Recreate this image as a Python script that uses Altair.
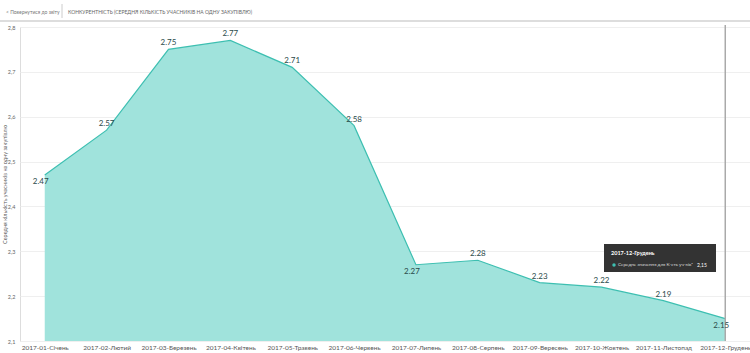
import altair as alt
import pandas as pd

months = ["2017-01-Січень", "2017-02-Лютий", "2017-03-Березень", "2017-04-Квітень",
          "2017-05-Травень", "2017-06-Червень", "2017-07-Липень", "2017-08-Серпень",
          "2017-09-Вересень", "2017-10-Жовтень", "2017-11-Листопад", "2017-12-Грудень"]
values = [2.47, 2.57, 2.75, 2.77, 2.71, 2.58, 2.27, 2.28, 2.23, 2.22, 2.19, 2.15]
below_labels = ["2017-01-Січень", "2017-07-Липень", "2017-12-Грудень"]
y_ticks = [2.1, 2.2, 2.3, 2.4, 2.5, 2.6, 2.7, 2.8]
header_back = "Повернутися до звіту"
header_title = "КОНКУРЕНТНІСТЬ (СЕРЕДНЯ КІЛЬКІСТЬ УЧАСНИКІВ НА ОДНУ ЗАКУПІВЛЮ)"
y_title = "Середня кількість учасників на одну закупівлю"
tip_title = "2017-12-Грудень"
tip_series = "Середнє значення для К-сть уч-ків²"
tip_value = "2,15"

df = pd.DataFrame({"month": months, "value": values})
df["below"] = df["month"].isin(below_labels)

FONT = "Lato"
x_enc = alt.X("month:N", sort=months, scale=alt.Scale(type="point", padding=0.4),
              axis=alt.Axis(title=None, labelAngle=0, labelFontSize=6.5, labelColor="#555",
                            domain=False, ticks=False, labelPadding=3, grid=False,
                            labelFont=FONT, labelOverlap=False))
y_scale = alt.Scale(domain=[2.1, 2.8], zero=False, nice=False)

base = alt.Chart(df)

area = base.mark_area(color="#a0e3dc", opacity=1, line={"color": "#3dbfb1", "strokeWidth": 1.2}).encode(
    x=x_enc,
    y=alt.Y("value:Q", scale=y_scale,
            axis=alt.Axis(values=y_ticks, labelExpr="replace(format(datum.value, '.1f'), '.', ',')",
                          title=y_title, titleFontSize=5.5, titleFontWeight="normal", titleColor="#555",
                          titlePadding=0, labelFontSize=5.5, labelColor="#666", labelPadding=5,
                          domain=False, ticks=False, gridColor="#efefef", labelFont=FONT,
                          titleFont=FONT)),
    y2=alt.datum(2.1),
)

labels_above = base.transform_filter("!datum.below").mark_text(
    dy=-6, fontSize=8, color="#2b4a4a", font=FONT).encode(
    x=alt.X("month:N", sort=months), y="value:Q", text=alt.Text("value:Q", format=".2f"))

labels_below = base.transform_filter("datum.below").mark_text(
    dy=7, dx=-4, fontSize=8, color="#2b4a4a", font=FONT).encode(
    x=alt.X("month:N", sort=months), y="value:Q", text=alt.Text("value:Q", format=".2f"))

vline = base.transform_filter(alt.datum.month == months[-1]).mark_rule(
    color="#aaaaaa", strokeWidth=1.5).encode(
    x=alt.X("month:N", sort=months), y=alt.value(-2), y2=alt.value(314))

# header
one = base.transform_filter(alt.datum.month == months[0])
hdr_line = one.mark_rule(color="#bbbbbb", strokeWidth=1).encode(
    x=alt.value(-20), x2=alt.value(730), y=alt.value(-6))
hdr_sep = one.mark_rule(color="#cccccc", strokeWidth=1).encode(
    x=alt.value(42), y=alt.value(-23), y2=alt.value(-9))
hdr_back = one.mark_text(
    align="left", baseline="middle", fontSize=5, color="#777", font=FONT, text="<   " + header_back).encode(
    x=alt.value(-14), y=alt.value(-15))
hdr_title = one.mark_text(
    align="left", baseline="middle", fontSize=5, color="#666", font=FONT, text=header_title).encode(
    x=alt.value(48), y=alt.value(-15))

# tooltip box
tip_box = one.mark_rect(color="#333333").encode(
    x=alt.value(584), x2=alt.value(696), y=alt.value(217), y2=alt.value(245))
tip_t1 = one.mark_text(align="left", baseline="middle", fontSize=5.5, fontWeight="bold",
                       color="white", font=FONT, text=tip_title).encode(
    x=alt.value(591), y=alt.value(226))
tip_dot = one.mark_point(filled=True, color="#3dbfb1", size=12, opacity=1).encode(
    x=alt.value(594), y=alt.value(238))
tip_t2 = one.mark_text(align="left", baseline="middle", fontSize=4.6, color="#dddddd",
                       font=FONT, text=tip_series).encode(
    x=alt.value(598), y=alt.value(238))
tip_t3 = one.mark_text(align="left", baseline="middle", fontSize=5, color="white",
                       font=FONT, text=tip_value).encode(
    x=alt.value(677), y=alt.value(238))

chart = alt.layer(area, vline, labels_above, labels_below, hdr_line, hdr_sep, hdr_back, hdr_title,
                  tip_box, tip_t1, tip_dot, tip_t2, tip_t3).properties(
    width=730, height=314,
    autosize=alt.AutoSizeParams(type="none"),
    padding={"left": 20, "top": 27, "right": 0, "bottom": 12},
).configure_view(stroke=None).configure(background="white")

chart.save("out.html", embed_options={"renderer": "svg", "actions": False})
